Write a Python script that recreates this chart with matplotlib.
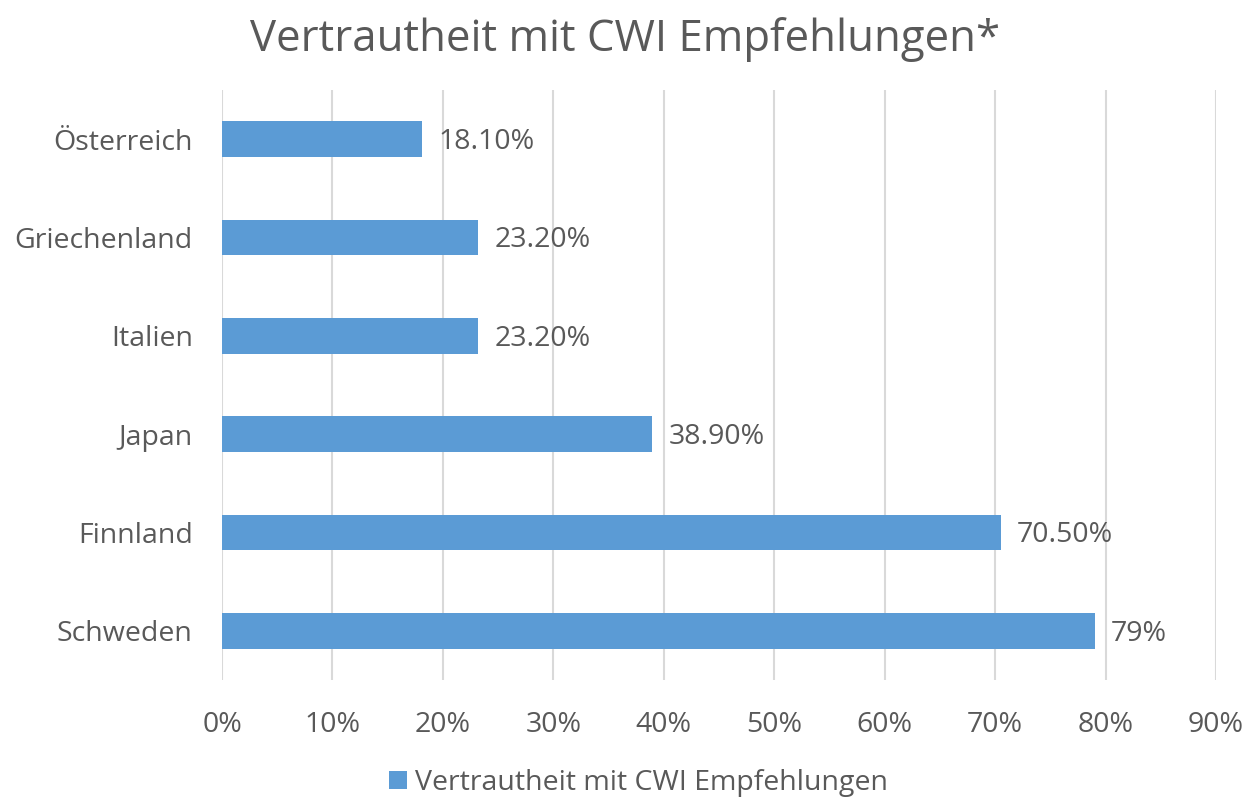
import matplotlib.pyplot as plt
from matplotlib.ticker import PercentFormatter

countries = ['Schweden', 'Finnland', 'Japan', 'Italien', 'Griechenland', 'Österreich']
values = [79.0, 70.5, 38.9, 23.2, 23.2, 18.1]
labels = ['79%', '70.50%', '38.90%', '23.20%', '23.20%', '18.10%']
series_name = 'Vertrautheit mit CWI Empfehlungen'

plt.rcParams['font.family'] = ['Open Sans', 'DejaVu Sans']
grey = '#595959'
blue = '#5B9BD5'

fig = plt.figure(figsize=(12.5, 8), dpi=100)
ax = fig.add_axes([0.1776, 0.15, 0.7952, 0.7375])

bars = ax.barh(countries, values, height=0.36, color=blue, label=series_name, zorder=3)
for b, lab in zip(bars, labels):
    ax.text(b.get_width() + 1.5, b.get_y() + b.get_height() / 2 - 0.03, lab,
            va='center', ha='left', fontsize=20.5, color=grey)

ax.set_xlim(0, 90)
ax.set_ylim(-0.5, 5.5)
ax.set_xticks(range(0, 91, 10))
ax.xaxis.set_major_formatter(PercentFormatter(decimals=0))
ax.grid(axis='x', color='#d9d9d9', linewidth=1.5, zorder=0)
for s in ax.spines.values():
    s.set_visible(False)
ax.tick_params(length=0, labelsize=20.5, colors=grey)
ax.tick_params(axis='x', pad=22)
ax.tick_params(axis='y', pad=21)

fig.suptitle('Vertrautheit mit CWI Empfehlungen*', fontsize=31.5, color=grey, y=0.979)
fig.legend(loc='center', bbox_to_anchor=(0.511, 0.021), frameon=False,
           fontsize=20.5, labelcolor=grey, handlelength=0.6, handleheight=0.6,
           handletextpad=0.3)

fig.savefig('out.png')
